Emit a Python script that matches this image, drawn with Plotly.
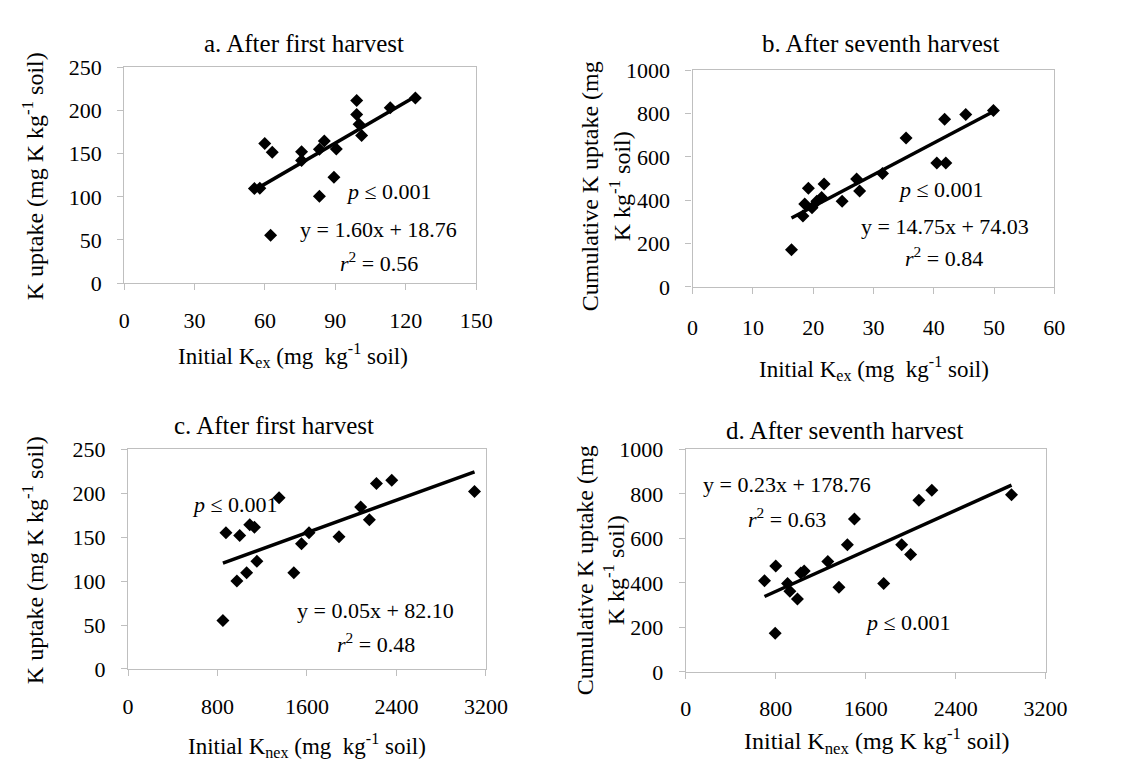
import numpy as np
import plotly.graph_objects as go

W, H = 1121, 762

# ---------------- data ----------------
# a. Initial Kex vs K uptake after first harvest
a_x = [55.5, 57.8, 59.9, 63.1, 62.4, 75.6, 75.6, 83.2, 85.3, 90.4, 89.4, 83.2, 99.1, 99.1, 100.1, 101.2, 113.4, 124.1]
a_y = [109.7, 110, 161.7, 151.6, 55.4, 152.3, 142, 155, 164.7, 155.3, 122.8, 100.7, 211.5, 195.4, 184, 171, 203.2, 214.4]
# b. Initial Kex vs cumulative K uptake after seventh harvest
b_x = [16.4, 18.3, 18.6, 19.2, 19.8, 20.6, 21.4, 21.8, 24.8, 27.2, 27.7, 31.5, 35.4, 40.5, 42.0, 41.8, 45.3, 49.9]
b_y = [172, 327, 383, 455, 366, 395, 413, 475, 396, 498, 443, 524, 688, 572, 572, 774, 796, 814]
# c. Initial Knex vs K uptake after first harvest
c_x = [848, 875, 973, 998, 1060, 1088, 1130, 1152, 1350, 1482, 1551, 1618, 1886, 2080, 2158, 2221, 2358, 3098]
c_y = [55.2, 155, 100.1, 152, 109.7, 164.3, 161.3, 122.6, 195, 109.7, 142.5, 155, 150.5, 184.4, 170, 211.3, 215, 202]
# d. Initial Knex vs cumulative K uptake after seventh harvest
d_x = [700, 800, 795, 905, 926, 993, 1023, 1053, 1263, 1362, 1437, 1500, 1760, 1920, 2000, 2073, 2188, 2897]
d_y = [410, 476, 174, 397, 362, 328, 444, 454, 496, 381, 571, 687, 397, 572, 528, 771, 817, 796]

titles = ["a. After first harvest", "b. After seventh harvest",
          "c. After first harvest", "d. After seventh harvest"]
equations = ["y = 1.60x + 18.76", "y = 14.75x + 74.03", "y = 0.05x + 82.10", "y = 0.23x + 178.76"]
r2_texts = ["<i>r</i><sup>2</sup> = 0.56", "<i>r</i><sup>2</sup> = 0.84",
            "<i>r</i><sup>2</sup> = 0.48", "<i>r</i><sup>2</sup> = 0.63"]
p_text = "<i>p</i> ≤ 0.001"

x_ranges = [[0, 150], [0, 60], [0, 3200], [0, 3200]]
x_dticks = [30, 10, 800, 800]
y_ranges = [[0, 250], [0, 1000], [0, 250], [0, 1000]]
y_dticks = [50, 200, 50, 200]

x_titles = ["Initial K<sub>ex</sub> (mg  kg<sup>-1</sup> soil)",
            "Initial K<sub>ex</sub> (mg  kg<sup>-1</sup> soil)",
            "Initial K<sub>nex</sub> (mg  kg<sup>-1</sup> soil)",
            "Initial K<sub>nex</sub> (mg K kg<sup>-1</sup> soil)"]
y_titles = ["K uptake (mg K kg<sup>-1</sup> soil)",
            "Cumulative K uptake (mg<br>K kg<sup>-1</sup> soil)",
            "K uptake (mg K kg<sup>-1</sup> soil)",
            "Cumulative K uptake (mg<br>K kg<sup>-1</sup> soil)"]

# ---------------- layout geometry (pixels) ----------------
boxes = [(113, 474, 49, 272), (696, 1067, 52, 276), (117, 484, 444, 671), (689, 1058, 444, 674)]
title_pos = [(297, 24), (889, 24), (267, 419), (852, 424)]
xt_pos = [(286, 347), (882, 360), (300, 750), (885, 745)]
yt_pos = [(19, 162), (607, 172), (19, 559), (601, 569)]
xlabel_standoff = [11, 15, 11, 11]
# in-plot text positions (data coords): p, equation, r2
p_pos = [(112.7, 106), (41.2, 451), (958, 187), (1972, 220)]
eq_pos = [(108.5, 62), (41.8, 281), (2215, 67), (902, 843)]
r2_pos = [(108.5, 25), (41.7, 138), (2215, 30), (900, 691)]

FONT = "Liberation Serif, Times New Roman, serif"
datasets = [(a_x, a_y), (b_x, b_y), (c_x, c_y), (d_x, d_y)]


def px(x):
    return x / W


def py(y):
    return 1 - y / H


fig = go.Figure()
annotations = []
for i, (xs, ys) in enumerate(datasets):
    sfx = "" if i == 0 else str(i + 1)
    xa, ya = "x" + sfx, "y" + sfx
    fig.add_trace(go.Scatter(x=xs, y=ys, mode="markers", xaxis=xa, yaxis=ya,
                             marker=dict(symbol="diamond", size=10, color="black"),
                             showlegend=False))
    slope, icpt = np.polyfit(xs, ys, 1)
    lx = np.array([min(xs), max(xs)])
    fig.add_trace(go.Scatter(x=lx, y=slope * lx + icpt, mode="lines", xaxis=xa, yaxis=ya,
                             line=dict(color="black", width=3.5), showlegend=False))
    l, r, t, b = boxes[i]
    axis_common = dict(showline=True, linecolor="#BFBFBF", linewidth=1.3, mirror=True,
                       showgrid=False, zeroline=False, ticks="outside", tickcolor="#BFBFBF",
                       ticklen=6, tickfont=dict(family=FONT, size=22, color="black"))
    fig.layout["xaxis" + sfx] = dict(domain=[px(l), px(r)], range=x_ranges[i], dtick=x_dticks[i],
                                     tick0=0, anchor=ya, ticklabelstandoff=xlabel_standoff[i],
                                     **axis_common)
    fig.layout["yaxis" + sfx] = dict(domain=[py(b), py(t)], range=y_ranges[i], dtick=y_dticks[i],
                                     tick0=0, anchor=xa, ticklabelstandoff=11, **axis_common)
    annotations.append(dict(text=titles[i], x=px(title_pos[i][0]), y=py(title_pos[i][1]),
                            xref="paper", yref="paper", showarrow=False,
                            font=dict(family=FONT, size=25, color="black"),
                            xanchor="center", yanchor="middle"))
    annotations.append(dict(text=x_titles[i], x=px(xt_pos[i][0]), y=py(xt_pos[i][1]),
                            xref="paper", yref="paper", showarrow=False,
                            font=dict(family=FONT, size=24 if i == 3 else 23, color="black"),
                            xanchor="center", yanchor="middle"))
    annotations.append(dict(text=y_titles[i], x=px(yt_pos[i][0]), y=py(yt_pos[i][1]),
                            xref="paper", yref="paper", showarrow=False, textangle=-90,
                            font=dict(family=FONT, size=24, color="black"),
                            xanchor="center", yanchor="middle", align="center"))
    for txt, pos in ((p_text, p_pos[i]), (equations[i], eq_pos[i]), (r2_texts[i], r2_pos[i])):
        annotations.append(dict(text=txt, x=pos[0], y=pos[1], xref=xa, yref=ya, showarrow=False,
                                font=dict(family=FONT, size=22, color="black"),
                                xanchor="center", yanchor="middle"))

fig.update_layout(width=W, height=H, margin=dict(l=0, r=0, t=0, b=0),
                  paper_bgcolor="white", plot_bgcolor="white",
                  annotations=annotations)
fig.write_html("out.html")
